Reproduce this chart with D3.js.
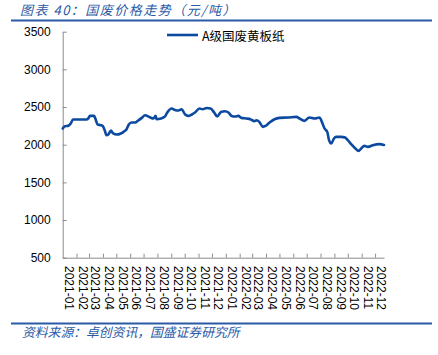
<!DOCTYPE html>
<html><head><meta charset="utf-8">
<script src="https://cdn.jsdelivr.net/npm/d3@7"></script>
<style>body{margin:0;background:#fff}svg{display:block}</style>
</head><body>
<svg id="c" width="438" height="355"></svg>
<script>
const titleText = "图表 40：国废价格走势（元/吨）";
const sourceText = "资料来源：卓创资讯，国盛证券研究所";
const seriesName = "A级国废黄板纸";
const yTicks = [500, 1000, 1500, 2000, 2500, 3000, 3500];
const dates = ["2021-01-01","2021-01-06","2021-01-13","2021-01-19","2021-01-24","2021-02-04","2021-02-23","2021-02-27","2021-03-03","2021-03-12","2021-03-15","2021-03-20","2021-03-27","2021-04-01","2021-04-05","2021-04-09","2021-04-13","2021-04-19","2021-04-24","2021-05-02","2021-05-11","2021-05-19","2021-05-24","2021-05-29","2021-06-04","2021-06-12","2021-06-19","2021-06-27","2021-07-04","2021-07-15","2021-07-23","2021-07-28","2021-07-30","2021-08-09","2021-08-18","2021-08-23","2021-09-02","2021-09-09","2021-09-17","2021-09-24","2021-10-02","2021-10-09","2021-10-17","2021-10-24","2021-11-03","2021-11-10","2021-11-19","2021-11-28","2021-12-06","2021-12-13","2021-12-21","2021-12-30","2022-01-07","2022-01-14","2022-01-22","2022-01-29","2022-02-05","2022-02-16","2022-02-25","2022-03-06","2022-03-11","2022-03-17","2022-03-25","2022-03-31","2022-04-09","2022-04-20","2022-05-01","2022-05-20","2022-06-08","2022-06-15","2022-06-26","2022-07-07","2022-07-19","2022-07-30","2022-08-04","2022-08-10","2022-08-16","2022-08-20","2022-08-25","2022-08-31","2022-09-05","2022-09-16","2022-09-25","2022-10-01","2022-10-09","2022-10-18","2022-10-25","2022-10-31","2022-11-07","2022-11-15","2022-11-26","2022-12-11","2022-12-21"];
const prices = [2215,2245,2250,2281,2335,2335,2335,2348,2382,2382,2348,2268,2259,2245,2192,2126,2135,2188,2149,2135,2149,2179,2206,2268,2295,2295,2321,2356,2391,2365,2348,2382,2338,2348,2375,2427,2480,2462,2454,2471,2401,2382,2401,2427,2480,2471,2488,2480,2427,2374,2435,2444,2427,2382,2374,2382,2356,2348,2338,2312,2325,2303,2236,2250,2295,2338,2356,2361,2369,2348,2316,2361,2348,2361,2303,2215,2170,2060,2016,2082,2104,2104,2095,2060,2003,1950,1918,1950,1984,1971,1993,2007,1997];

const parse = d3.timeParse("%Y-%m-%d");
const data = dates.map((d, i) => ({date: parse(d), v: prices[i]}));

const svg = d3.select("#c");
const L = 62.7, R = 384, T = 31.7, B = 257.7;
const x = d3.scaleTime().domain([parse("2021-01-01"), parse("2022-12-21")]).range([L, R]);
const y = d3.scaleLinear().domain([500, 3500]).range([B, T]);
const blue = "#2b5aa6";
const axisC = "#8c8c8c";
const cjk = "'Noto Sans CJK SC', 'Liberation Sans', sans-serif";

// title & rules
svg.append("text").attr("x", 20).attr("y", 14.5).attr("font-family", cjk).attr("font-size", 13)
  .attr("letter-spacing", 1.5).attr("font-style", "italic").attr("fill", blue).text(titleText);
svg.append("line").attr("x1", 11).attr("x2", 432).attr("y1", 20.5).attr("y2", 20.5).attr("stroke", blue).attr("stroke-width", 2);
svg.append("line").attr("x1", 11).attr("x2", 432).attr("y1", 323.5).attr("y2", 323.5).attr("stroke", blue).attr("stroke-width", 2);
svg.append("text").attr("x", 22).attr("y", 337).attr("font-family", cjk).attr("font-size", 12.8)
  .attr("font-style", "italic").attr("fill", blue).text(sourceText);

// y axis
const ya = svg.append("g").attr("transform", `translate(${L},0)`)
  .call(d3.axisLeft(y).tickValues(yTicks).tickFormat(d3.format("d")).tickSizeInner(-4).tickSizeOuter(0).tickPadding(12));
ya.select(".domain").attr("stroke", axisC);
ya.selectAll(".tick line").attr("stroke", axisC);
ya.selectAll(".tick text").attr("font-family", "'Liberation Sans', sans-serif").attr("font-size", 12).attr("fill", "#000");

// x axis: ticks at month starts, labels mid-month
const months = d3.timeMonth.range(parse("2021-01-01"), parse("2022-12-21"));
const xa = svg.append("g").attr("transform", `translate(0,${B})`)
  .call(d3.axisBottom(x).tickValues(months.slice(1)).tickSizeInner(-4).tickSizeOuter(0).tickFormat(""));
xa.select(".domain").attr("stroke", axisC);
xa.selectAll(".tick line").attr("stroke", axisC);
const fmt = d3.timeFormat("%Y-%m");
svg.append("g").selectAll("text").data(months).join("text")
  .attr("transform", d => `translate(${x(d3.timeDay.offset(d, 14))},266) rotate(90)`)
  .attr("dominant-baseline", "central").attr("font-family", "'Liberation Sans', sans-serif")
  .attr("font-size", 12).attr("fill", "#000").text(d => fmt(d));

// line
const lineC = "#0b4a9f";
svg.append("path").datum(data).attr("fill", "none").attr("stroke", lineC).attr("stroke-width", 2.6)
  .attr("stroke-linejoin", "round").attr("stroke-linecap", "round")
  .attr("d", d3.line().x(d => x(d.date)).y(d => y(d.v)).curve(d3.curveMonotoneX));

// legend
svg.append("line").attr("x1", 167).attr("x2", 198).attr("y1", 35).attr("y2", 35).attr("stroke", lineC).attr("stroke-width", 2.6);
svg.append("text").attr("x", 202).attr("y", 35).attr("dominant-baseline", "central").attr("font-family", cjk)
  .attr("font-size", 12.5).attr("fill", "#000").text(seriesName);
</script>
</body></html>
